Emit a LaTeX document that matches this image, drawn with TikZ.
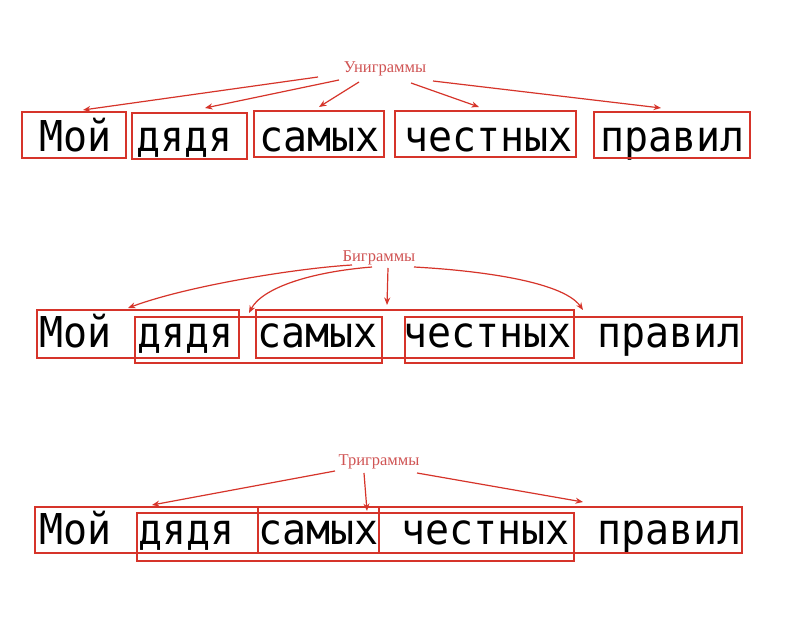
\documentclass[tikz,border=0pt]{standalone}
\usepackage{fontspec}
\setmainfont{Liberation Serif}
\newfontfamily\wordfont[FakeStretch=0.94]{DejaVu Sans Mono}
\usetikzlibrary{arrows.meta,fit}
\definecolor{lred}{RGB}{214,52,42}
\definecolor{tred}{RGB}{208,84,84}
\begin{document}
\begin{tikzpicture}[x=1pt,y=-1pt,
  box/.style={draw=lred, line width=1.2pt, inner sep=0pt, outer sep=0pt},
  word/.style={font=\wordfont\fontsize{42.5}{44}\selectfont, anchor=base west, inner sep=0pt},
  lab/.style={font=\fontsize{16.5}{18}\selectfont, text=tred, inner sep=0pt},
  arr/.style={draw=lred, line width=1.2pt, -{Stealth[length=7.5pt,width=6pt]}}]
\useasboundingbox[fill=white] (0,0) rectangle (807,620);

% ---------- Row 1: unigrams ----------
\node[lab] (uni) at (385,69) {Униграммы};
\node[word] (w11) at (39,152) {Мой};
\node[word] (w12) at (136,152) {дядя};
\node[word] (w13) at (259,152) {самых};
\node[word] (w14) at (404,152) {честных};
\node[word] (w15) at (600,152) {правил};
\node[box, fit={(22,112) (126,158)}] (u1) {};
\node[box, fit={(132,113) (247,159)}] (u2) {};
\node[box, fit={(254,111) (384,157)}] (u3) {};
\node[box, fit={(395,111) (576,157)}] (u4) {};
\node[box, fit={(594,112) (750,158)}] (u5) {};
\coordinate (us1) at (318,77);  \coordinate (ue1) at (83,110);
\coordinate (us2) at (339,80);  \coordinate (ue2) at (205,108);
\coordinate (us3) at (359,82);  \coordinate (ue3) at (319,107);
\coordinate (us4) at (411,83);  \coordinate (ue4) at (479,107);
\coordinate (us5) at (433,81);  \coordinate (ue5) at (661,108);
\draw[arr] (us1) -- (ue1);
\draw[arr] (us2) -- (ue2);
\draw[arr] (us3) -- (ue3);
\draw[arr] (us4) -- (ue4);
\draw[arr] (us5) -- (ue5);

% ---------- Row 2: bigrams ----------
\node[lab] (bi) at (379,258) {Биграммы};
\node[word] (w21) at (39,348) {Мой};
\node[word] (w22) at (137,348) {дядя};
\node[word] (w23) at (257,348) {самых};
\node[word] (w24) at (403,348) {честных};
\node[word] (w25) at (597,348) {правил};
\node[box, fit={(37,310) (239,358)}] (b1) {};
\node[box, fit={(135,317) (382,363)}] (b2) {};
\node[box, fit={(256,310) (574,358)}] (b3) {};
\node[box, fit={(405,317) (742,363)}] (b4) {};
\coordinate (bs1) at (352,265); \coordinate (be1) at (128,308);
\coordinate (bs2) at (372,267); \coordinate (be2) at (249,313);
\coordinate (bs3) at (388,268); \coordinate (be3) at (387,305);
\coordinate (bs4) at (414,267); \coordinate (be4) at (583,310);
\draw[arr] (bs1) .. controls (300,268) and (190,285) .. (be1);
\draw[arr] (bs2) .. controls (310,272) and (262,288) .. (be2);
\draw[arr] (bs3) -- (be3);
\draw[arr] (bs4) .. controls (470,270) and (562,280) .. (be4);

% ---------- Row 3: trigrams ----------
\node[lab] (tri) at (379,462) {Триграммы};
\node[word] (w31) at (39,545) {Мой};
\node[word] (w32) at (138,545) {дядя};
\node[word] (w33) at (258,545) {самых};
\node[word] (w34) at (401,545) {честных};
\node[word] (w35) at (597,545) {правил};
\node[box, fit={(35,507) (379,553)}] (t1) {};
\node[box, fit={(137,513) (574,561)}] (t2) {};
\node[box, fit={(258,507) (742,553)}] (t3) {};
\coordinate (ts1) at (335,471); \coordinate (te1) at (152,505);
\coordinate (ts2) at (364,473); \coordinate (te2) at (367,511);
\coordinate (ts3) at (417,473); \coordinate (te3) at (583,502);
\draw[arr] (ts1) -- (te1);
\draw[arr] (ts2) -- (te2);
\draw[arr] (ts3) -- (te3);
\end{tikzpicture}
\end{document}
